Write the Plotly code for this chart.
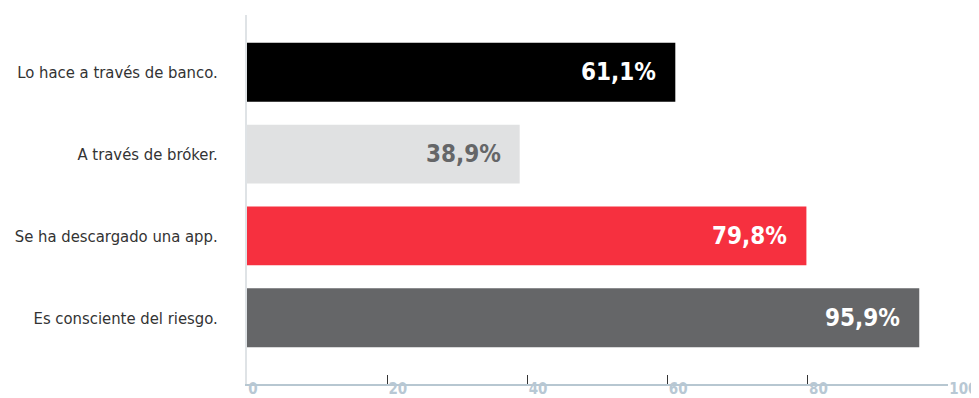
import plotly.graph_objects as go

categories = ["Lo hace a través de banco.", "A través de bróker.", "Se ha descargado una app.", "Es consciente del riesgo."]
values = [61.1, 38.9, 79.8, 95.9]
bar_colors = ["#000000", "#e0e1e2", "#f6303f", "#656668"]
label_colors = ["#ffffff", "#656668", "#ffffff", "#ffffff"]
tick_vals = [0, 20, 40, 60, 80, 100]

COND = "DejaVu Sans Condensed, Liberation Sans Narrow, Arial Narrow, sans-serif"

fig = go.Figure()
fig.add_trace(go.Bar(
    y=categories, x=values, orientation="h",
    marker=dict(color=bar_colors, line=dict(width=0)),
    width=0.72, hoverinfo="skip",
))

for c, v, col in zip(categories, values, label_colors):
    fig.add_annotation(
        x=v, y=c, xref="x", yref="y",
        text=f"<b>{v:.1f}%</b>".replace(".", ","),
        showarrow=False, xanchor="right", yanchor="middle", xshift=-17,
        font=dict(family=COND, size=24, color=col),
    )

fig.update_layout(
    width=971, height=390,
    margin=dict(l=239, r=31, t=7, b=14),
    paper_bgcolor="white", plot_bgcolor="white",
    showlegend=False,
    xaxis=dict(
        range=[0, 100], tickvals=tick_vals, ticktext=[f"<b>{t}</b>" for t in tick_vals],
        showgrid=False, zeroline=False,
        showline=True, linecolor="#b7c7d1", linewidth=1.5,
        ticks="inside", ticklen=9, tickcolor="#333333", tickwidth=1,
        ticklabelposition="outside right", ticklabelstandoff=-10,
        tickfont=dict(family=COND, size=15, color="#b8c8d4"),
        automargin=False, fixedrange=True,
    ),
    yaxis=dict(
        categoryorder="array", categoryarray=categories,
        range=[3.81, -0.70],
        showgrid=False, zeroline=False,
        showline=True, linecolor="#dfe3e6", linewidth=2,
        ticks="", ticklabelstandoff=24,
        tickfont=dict(family=COND, size=16.5, color="#333333"),
        automargin=False, fixedrange=True,
    ),
)

fig.write_html("out.html")
